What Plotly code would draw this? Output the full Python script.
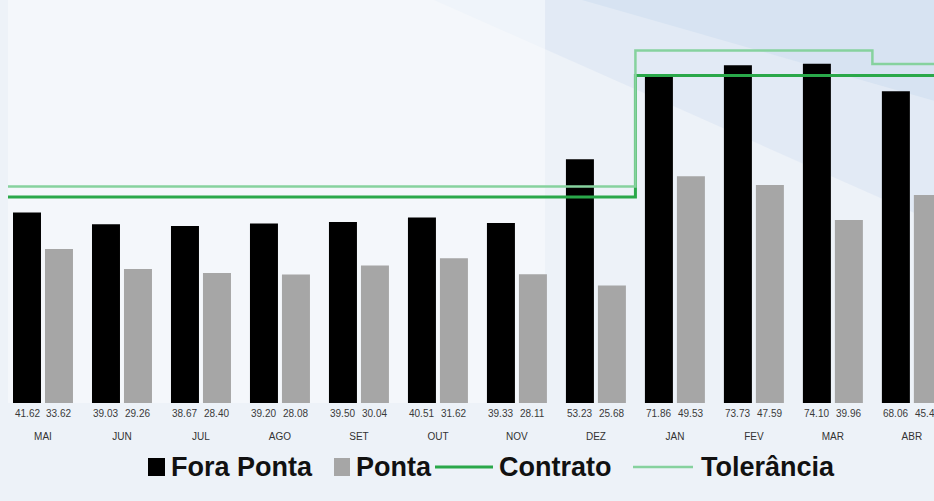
import plotly.graph_objects as go

months = ["MAI", "JUN", "JUL", "AGO", "SET", "OUT", "NOV", "DEZ", "JAN", "FEV", "MAR", "ABR"]
fora_ponta = [41.62, 39.03, 38.67, 39.20, 39.50, 40.51, 39.33, 53.23, 71.86, 73.73, 74.10, 68.06]
ponta = [33.62, 29.26, 28.40, 28.08, 30.04, 31.62, 28.11, 25.68, 49.53, 47.59, 39.96, 45.40]
contrato = [45, 45, 45, 45, 45, 45, 45, 45, 71.5, 71.5, 71.5, 71.5]
tolerancia = [47.25, 47.25, 47.25, 47.25, 47.25, 47.25, 47.25, 47.25, 77.0, 77.0, 77.0, 74.0]
series_names = ["Fora Ponta", "Ponta", "Contrato", "Tolerância"]

C_FORA, C_PONTA, C_CONT, C_TOL = "#000000", "#a6a6a6", "#2aa84a", "#86d29e"

n = len(months)
idx = list(range(n))
step_x = [i - 0.5 for i in idx] + [n - 0.5]

fig = go.Figure()
fig.add_trace(go.Bar(x=idx, y=fora_ponta, name=series_names[0], marker_color=C_FORA,
                     marker_line_width=0))
fig.add_trace(go.Bar(x=idx, y=ponta, name=series_names[1], marker_color=C_PONTA,
                     marker_line_width=0))
fig.add_trace(go.Scatter(x=step_x, y=contrato + [contrato[-1]], name=series_names[2],
                         mode="lines", line=dict(color=C_CONT, width=3, shape="hv")))
fig.add_trace(go.Scatter(x=step_x, y=tolerancia + [tolerancia[-1]], name=series_names[3],
                         mode="lines", line=dict(color=C_TOL, width=2.5, shape="hv")))

# value labels under the bars
off = 0.2025
small_font = dict(family="Liberation Sans Narrow, Arial Narrow, Liberation Sans",
                  size=10, color="#3a3a3a")
for i in idx:
    for dx, v in ((-off, fora_ponta[i]), (off, ponta[i])):
        fig.add_annotation(x=i + dx, y=0, yref="y", text=f"{v:.2f}", showarrow=False,
                           yanchor="top", yshift=-3, font=small_font)

# decorative background shapes
fig.add_shape(type="path", xref="paper", yref="paper",
              path="M 0.46 1.0 L 1.0 1.0 L 1.0 0.45 Z",
              fillcolor="rgba(205,222,240,0.35)", line_width=0, layer="below")
fig.add_shape(type="path", xref="paper", yref="paper",
              path="M 0.62 1.0 L 1.0 1.0 L 1.0 0.75 Z",
              fillcolor="rgba(190,212,236,0.3)", line_width=0, layer="below")
fig.add_shape(type="rect", xref="paper", yref="paper", x0=0.0, x1=0.58, y0=0.0, y1=1.0,
              fillcolor="rgba(250,251,253,0.55)", line_width=0, layer="below")

# custom legend (pixel-based positions converted to paper coords)
W, H = 934, 501
ML, MR, MT, MB = 8, 0, 0, 98
pw, ph = W - ML - MR, H - MT - MB


def px(xp):
    return (xp - ML) / pw


def py(yp):
    return (H - MB - yp) / ph


leg_font = dict(family="Liberation Sans, Arial", size=27, color="#111111", weight="bold")
leg_y = 467
fig.add_shape(type="rect", xref="paper", yref="paper", x0=px(148), x1=px(165),
              y0=py(476), y1=py(458), fillcolor=C_FORA, line_width=0)
fig.add_shape(type="rect", xref="paper", yref="paper", x0=px(334), x1=px(350),
              y0=py(476), y1=py(458), fillcolor=C_PONTA, line_width=0)
fig.add_shape(type="line", xref="paper", yref="paper", x0=px(435), x1=px(493),
              y0=py(leg_y), y1=py(leg_y), line=dict(color=C_CONT, width=3))
fig.add_shape(type="line", xref="paper", yref="paper", x0=px(633), x1=px(693),
              y0=py(leg_y), y1=py(leg_y), line=dict(color=C_TOL, width=2.5))
for xp, name in ((169, series_names[0]), (354, series_names[1]),
                 (497, series_names[2]), (699, series_names[3])):
    fig.add_annotation(xref="paper", yref="paper", x=px(xp), y=py(leg_y), text=name,
                       showarrow=False, xanchor="left", yanchor="middle", font=leg_font)

fig.update_layout(
    width=W, height=H,
    margin=dict(l=ML, r=MR, t=MT, b=MB),
    paper_bgcolor="#edf2f8",
    plot_bgcolor="rgba(0,0,0,0)",
    barmode="group", bargap=0.19, bargroupgap=0.125,
    showlegend=False,
    xaxis=dict(range=[-0.443, 11.28], tickmode="array", tickvals=idx, ticktext=months,
               showgrid=False, zeroline=False, showline=False, ticks="",
               ticklabelstandoff=26,
               tickfont=dict(family="Liberation Sans Narrow, Arial Narrow, Liberation Sans",
                             size=10, color="#333333")),
    yaxis=dict(range=[0, 88], visible=False, showgrid=False, zeroline=False),
)

fig.write_html("out.html", config={"displayModeBar": False},
               post_script="document.body.style.margin='0';document.body.style.overflow='hidden';")
